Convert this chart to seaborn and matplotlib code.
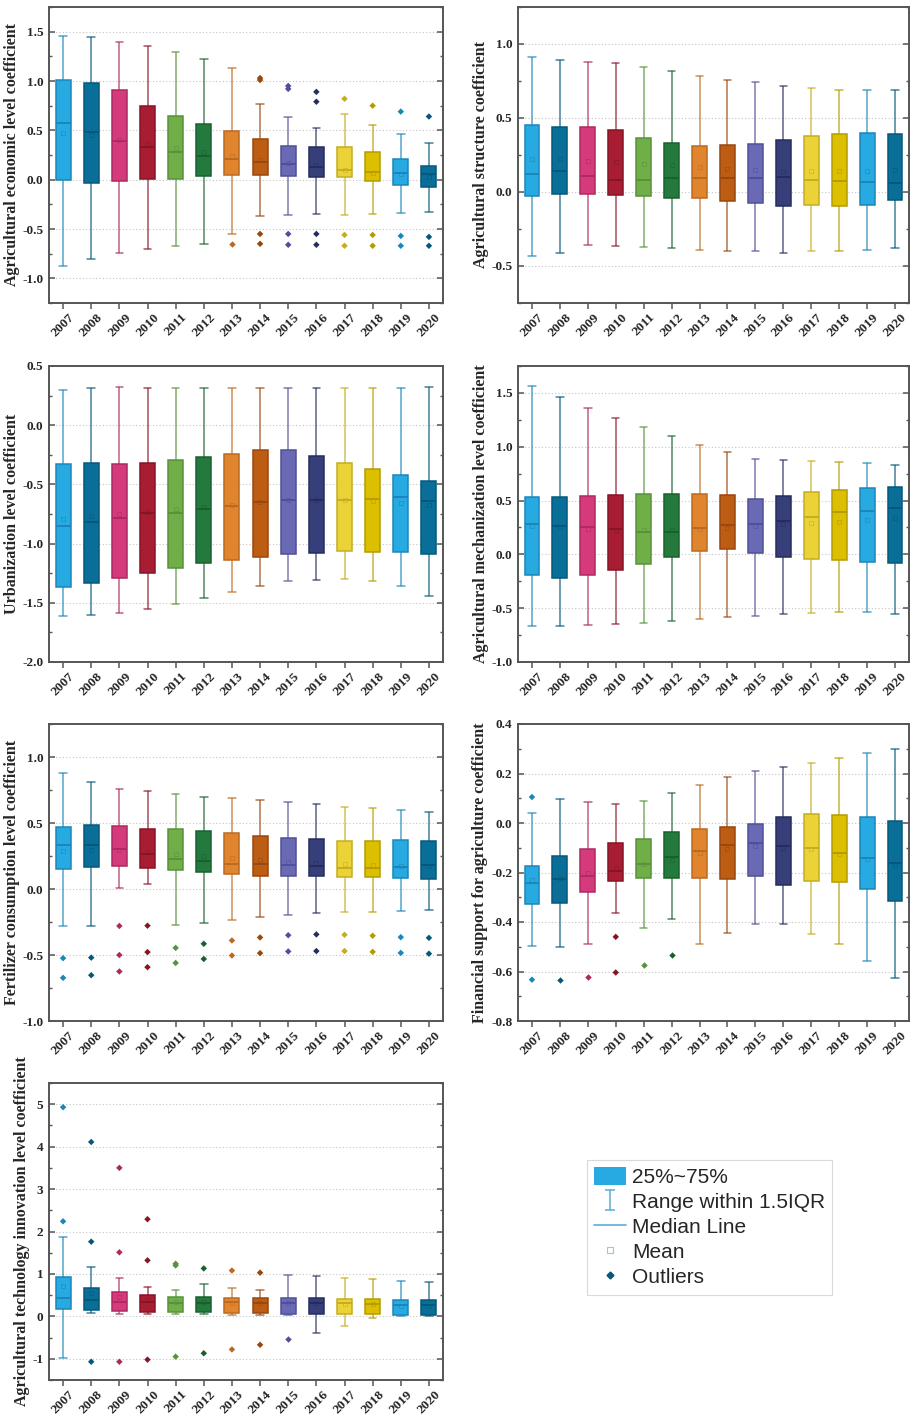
import numpy as np
import pandas as pd
import matplotlib
matplotlib.use("Agg")
import matplotlib.pyplot as plt
import seaborn as sns
from matplotlib.patches import Patch
from matplotlib.lines import Line2D
from matplotlib.path import Path
from matplotlib.ticker import MultipleLocator, FormatStrFormatter

years = [str(y) for y in range(2007, 2021)]

fill_colors = ["#27a9e1", "#0a6f98", "#d43a7c", "#a81d32", "#70ae48", "#237a3c",
               "#e0852e", "#bd5d14", "#6a69b3", "#373f7b", "#ebd236", "#dcc000",
               "#27a9e1", "#0a6f98"]
edge_colors = ["#1b86b8", "#06587a", "#ad2a60", "#861526", "#58923a", "#1a602f",
               "#bb6a20", "#98480e", "#50509a", "#262d5e", "#c4ad20", "#b49c00",
               "#1b86b8", "#06587a"]

# ---- Agricultural economic level coefficient ----
econ_hi = [1.46, 1.45, 1.40, 1.35, 1.29, 1.22, 1.13, 0.77, 0.64, 0.52, 0.67, 0.55, 0.46, 0.37]
econ_q3 = [1.01, 0.98, 0.91, 0.75, 0.65, 0.56, 0.49, 0.41, 0.34, 0.33, 0.33, 0.28, 0.21, 0.14]
econ_med = [0.57, 0.48, 0.39, 0.33, 0.28, 0.24, 0.21, 0.18, 0.16, 0.13, 0.10, 0.08, 0.07, 0.06]
econ_q1 = [0.00, -0.03, -0.01, 0.01, 0.01, 0.04, 0.05, 0.05, 0.04, 0.03, 0.03, -0.01, -0.05, -0.07]
econ_lo = [-0.87, -0.80, -0.74, -0.70, -0.67, -0.65, -0.55, -0.37, -0.36, -0.35, -0.36, -0.35, -0.34, -0.33]
econ_mean = [0.47, 0.45, 0.40, 0.36, 0.32, 0.28, 0.24, 0.20, 0.17, 0.15, 0.10, 0.07, 0.06, 0.03]
econ_out = [[], [], [], [], [], [], [-0.65], [1.03, 1.01, -0.55, -0.65], [0.95, 0.92, -0.55, -0.66],
            [0.89, 0.79, -0.55, -0.66], [0.82, -0.56, -0.67], [0.75, -0.56, -0.67],
            [0.69, -0.57, -0.67], [0.64, -0.58, -0.67]]

# ---- Agricultural structure coefficient ----
struct_hi = [0.91, 0.89, 0.88, 0.87, 0.845, 0.82, 0.785, 0.76, 0.74, 0.715, 0.70, 0.69, 0.69, 0.686]
struct_q3 = [0.45, 0.44, 0.44, 0.42, 0.365, 0.33, 0.31, 0.315, 0.325, 0.35, 0.377, 0.39, 0.40, 0.39]
struct_med = [0.125, 0.14, 0.105, 0.083, 0.083, 0.096, 0.096, 0.096, 0.096, 0.10, 0.083, 0.076, 0.067, 0.06]
struct_q1 = [-0.025, -0.013, -0.013, -0.022, -0.03, -0.04, -0.043, -0.06, -0.076, -0.092, -0.087, -0.092, -0.087, -0.056]
struct_lo = [-0.43, -0.41, -0.36, -0.365, -0.37, -0.38, -0.39, -0.40, -0.40, -0.41, -0.40, -0.40, -0.39, -0.38]
struct_mean = [0.22, 0.22, 0.21, 0.20, 0.19, 0.18, 0.166, 0.157, 0.146, 0.143, 0.141, 0.141, 0.143, 0.148]
struct_out = [[] for _ in years]

# ---- Urbanization level coefficient ----
urban_hi = [0.30, 0.31, 0.32, 0.31, 0.31, 0.31, 0.31, 0.31, 0.31, 0.31, 0.31, 0.31, 0.31, 0.32]
urban_q3 = [-0.33, -0.32, -0.33, -0.32, -0.29, -0.27, -0.245, -0.21, -0.21, -0.26, -0.32, -0.37, -0.42, -0.47]
urban_med = [-0.85, -0.82, -0.78, -0.74, -0.74, -0.71, -0.68, -0.65, -0.635, -0.63, -0.63, -0.62, -0.61, -0.64]
urban_q1 = [-1.365, -1.33, -1.29, -1.25, -1.21, -1.16, -1.14, -1.115, -1.09, -1.08, -1.065, -1.07, -1.075, -1.09]
urban_lo = [-1.61, -1.60, -1.59, -1.55, -1.51, -1.46, -1.41, -1.36, -1.32, -1.31, -1.30, -1.32, -1.36, -1.44]
urban_mean = [-0.79, -0.77, -0.75, -0.73, -0.71, -0.69, -0.67, -0.65, -0.635, -0.63, -0.63, -0.64, -0.66, -0.67]
urban_out = [[] for _ in years]

# ---- Agricultural mechanization level coefficient ----
mech_hi = [1.56, 1.46, 1.36, 1.27, 1.18, 1.10, 1.02, 0.95, 0.89, 0.88, 0.87, 0.86, 0.845, 0.83]
mech_q3 = [0.53, 0.53, 0.54, 0.55, 0.557, 0.563, 0.563, 0.55, 0.514, 0.545, 0.576, 0.60, 0.62, 0.63]
mech_med = [0.285, 0.26, 0.257, 0.24, 0.21, 0.21, 0.248, 0.27, 0.285, 0.306, 0.344, 0.393, 0.40, 0.43]
mech_q1 = [-0.195, -0.215, -0.19, -0.145, -0.087, -0.028, 0.028, 0.046, 0.01, -0.02, -0.04, -0.056, -0.068, -0.077]
mech_lo = [-0.67, -0.67, -0.66, -0.65, -0.64, -0.62, -0.60, -0.585, -0.57, -0.555, -0.545, -0.54, -0.54, -0.55]
mech_mean = [0.26, 0.25, 0.235, 0.23, 0.23, 0.23, 0.24, 0.245, 0.266, 0.28, 0.29, 0.30, 0.32, 0.34]
mech_out = [[] for _ in years]

# ---- Fertilizer consumption level coefficient ----
fert_hi = [0.876, 0.81, 0.76, 0.74, 0.72, 0.70, 0.69, 0.675, 0.66, 0.643, 0.625, 0.61, 0.60, 0.587]
fert_q3 = [0.47, 0.484, 0.476, 0.456, 0.451, 0.44, 0.423, 0.40, 0.387, 0.377, 0.367, 0.367, 0.372, 0.362]
fert_med = [0.334, 0.334, 0.30, 0.268, 0.23, 0.21, 0.19, 0.187, 0.18, 0.175, 0.162, 0.16, 0.167, 0.18]
fert_q1 = [0.15, 0.17, 0.177, 0.162, 0.147, 0.13, 0.114, 0.10, 0.096, 0.096, 0.094, 0.089, 0.084, 0.078]
fert_lo = [-0.28, -0.28, 0.008, 0.035, -0.27, -0.256, -0.233, -0.213, -0.195, -0.185, -0.177, -0.175, -0.17, -0.16]
fert_mean = [0.29, 0.294, 0.294, 0.28, 0.266, 0.253, 0.233, 0.22, 0.207, 0.20, 0.19, 0.185, 0.177, 0.177]
fert_out = [[-0.524, -0.673], [-0.52, -0.653], [-0.28, -0.50, -0.625], [-0.278, -0.478, -0.592],
            [-0.446, -0.56], [-0.415, -0.53], [-0.39, -0.504], [-0.367, -0.486], [-0.35, -0.473],
            [-0.344, -0.47], [-0.347, -0.47], [-0.354, -0.476], [-0.365, -0.484], [-0.37, -0.49]]

# ---- Financial support for agriculture coefficient ----
fin_hi = [0.042, 0.098, 0.086, 0.075, 0.09, 0.121, 0.155, 0.187, 0.21, 0.228, 0.243, 0.264, 0.282, 0.30]
fin_q3 = [-0.172, -0.135, -0.104, -0.081, -0.063, -0.036, -0.023, -0.015, -0.004, 0.026, 0.035, 0.032, 0.023, 0.007]
fin_med = [-0.243, -0.226, -0.216, -0.193, -0.167, -0.139, -0.112, -0.088, -0.082, -0.092, -0.102, -0.12, -0.141, -0.163]
fin_q1 = [-0.329, -0.322, -0.28, -0.233, -0.221, -0.224, -0.222, -0.228, -0.214, -0.25, -0.233, -0.237, -0.267, -0.315]
fin_lo = [-0.496, -0.499, -0.488, -0.365, -0.423, -0.387, -0.49, -0.446, -0.41, -0.41, -0.45, -0.488, -0.557, -0.627]
fin_mean = [-0.23, -0.222, -0.202, -0.182, -0.166, -0.148, -0.12, -0.104, -0.094, -0.10, -0.105, -0.124, -0.144, -0.168]
fin_out = [[0.105, -0.633], [-0.635], [-0.624], [-0.46, -0.604], [-0.575], [-0.535],
           [], [], [], [], [], [], [], []]

# ---- Agricultural technology innovation level coefficient ----
tech_hi = [1.86, 1.17, 0.91, 0.69, 0.61, 0.76, 0.66, 0.63, 0.98, 0.94, 0.90, 0.87, 0.84, 0.80]
tech_q3 = [0.93, 0.68, 0.57, 0.50, 0.46, 0.46, 0.44, 0.44, 0.43, 0.43, 0.42, 0.40, 0.39, 0.39]
tech_med = [0.44, 0.38, 0.35, 0.33, 0.32, 0.32, 0.33, 0.31, 0.31, 0.32, 0.32, 0.29, 0.27, 0.27]
tech_q1 = [0.18, 0.14, 0.13, 0.10, 0.10, 0.095, 0.08, 0.08, 0.055, 0.055, 0.055, 0.05, 0.03, 0.03]
tech_lo = [-0.98, 0.07, 0.055, 0.05, 0.05, 0.05, 0.04, 0.03, 0.024, -0.39, -0.22, -0.05, 0.01, 0.01]
tech_mean = [0.72, 0.56, 0.45, 0.38, 0.35, 0.33, 0.31, 0.31, 0.31, 0.31, 0.28, 0.28, 0.25, 0.25]
tech_out = [[4.93, 2.24], [4.11, 1.76, -1.07], [3.50, 1.51, -1.07], [2.29, 1.32, -1.02],
            [1.24, 1.20, -0.95], [1.13, -0.87], [1.08, -0.78], [1.03, -0.67], [-0.54],
            [], [], [], [], []]

panels = [
    ("Agricultural economic level coefficient", econ_lo, econ_q1, econ_med, econ_q3, econ_hi, econ_mean, econ_out),
    ("Agricultural structure coefficient", struct_lo, struct_q1, struct_med, struct_q3, struct_hi, struct_mean, struct_out),
    ("Urbanization level coefficient", urban_lo, urban_q1, urban_med, urban_q3, urban_hi, urban_mean, urban_out),
    ("Agricultural mechanization level coefficient", mech_lo, mech_q1, mech_med, mech_q3, mech_hi, mech_mean, mech_out),
    ("Fertilizer consumption level coefficient", fert_lo, fert_q1, fert_med, fert_q3, fert_hi, fert_mean, fert_out),
    ("Financial support for agriculture coefficient", fin_lo, fin_q1, fin_med, fin_q3, fin_hi, fin_mean, fin_out),
    ("Agricultural technology innovation level coefficient", tech_lo, tech_q1, tech_med, tech_q3, tech_hi, tech_mean, tech_out),
]

# axis settings (ylim, major step, format) and pixel boxes (left, top, right, bottom)
axis_cfg = [((-1.25, 1.75), 0.5, "%.1f"), ((-0.75, 1.25), 0.5, "%.1f"),
            ((-2.0, 0.5), 0.5, "%.1f"), ((-1.0, 1.75), 0.5, "%.1f"),
            ((-1.0, 1.25), 0.5, "%.1f"), ((-0.8, 0.4), 0.2, "%.1f"),
            ((-1.5, 5.5), 1.0, "%d")]
boxes_px = [(49, 7, 443, 303), (518, 7, 909, 303), (49, 366, 443, 662), (518, 366, 909, 662),
            (49, 724, 443, 1021), (518, 724, 909, 1021), (49, 1083, 443, 1380)]

sns.set_theme(style="white")
plt.rcParams["font.family"] = ["Liberation Serif", "DejaVu Serif"]
plt.rcParams["axes.unicode_minus"] = False

W, H = 911, 1415
fig = plt.figure(figsize=(W / 100, H / 100), dpi=100)
spine_col = "#555555"
edge_map = dict(zip(years, edge_colors))

for (label, lo, q1, med, q3, hi, mean, out), (ylim, step, fmt), (l, t, r, b) in zip(panels, axis_cfg, boxes_px):
    ax = fig.add_axes([l / W, 1 - b / H, (r - l) / W, (b - t) / H])
    box_df = pd.DataFrame({"year": np.repeat(years, 5),
                           "value": np.column_stack([lo, q1, med, q3, hi]).ravel()})
    for i, y in enumerate(years):
        sns.boxplot(data=box_df[box_df["year"] == y], x="year", y="value", order=years,
                    color=fill_colors[i], linecolor=edge_colors[i], saturation=1,
                    width=0.53, whis=(0, 100), linewidth=1.1, showfliers=False,
                    whiskerprops=dict(alpha=0.75, linewidth=1.1),
                    capprops=dict(alpha=0.75, linewidth=1.1),
                    medianprops=dict(linewidth=1.4), ax=ax)
    out_df = pd.DataFrame([(y, v) for y, vals in zip(years, out) for v in vals],
                          columns=["year", "value"])
    if len(out_df):
        sns.stripplot(data=out_df, x="year", y="value", hue="year", order=years,
                      hue_order=years, palette=edge_map, jitter=False, marker="D",
                      size=3.3, linewidth=0, legend=False, ax=ax, zorder=4)
    mean_df = pd.DataFrame({"year": years, "value": mean})
    sns.pointplot(data=mean_df, x="year", y="value", hue="year", order=years,
                  hue_order=years, palette=edge_map, markers="s", linestyles="none",
                  errorbar=None, legend=False, markersize=3, markeredgewidth=0.7,
                  markerfacecolor="none", alpha=0.55, ax=ax)

    ax.set_xlim(-0.5, len(years) - 0.5)
    ax.set_ylim(*ylim)
    ax.yaxis.set_major_locator(MultipleLocator(step))
    ax.yaxis.set_minor_locator(MultipleLocator(step / 2))
    ax.yaxis.set_major_formatter(FormatStrFormatter(fmt))
    ax.set_xlabel("")
    ax.set_ylabel(label, fontsize=11.5, fontweight="bold", labelpad=2)
    ax.yaxis.grid(True, which="major", linestyle=(0, (1, 2)), color="#c4c4c4", linewidth=0.8)
    ax.xaxis.grid(False)
    ax.set_axisbelow(True)
    for sp in ax.spines.values():
        sp.set_color(spine_col)
        sp.set_linewidth(1.4)
        sp.set_visible(True)
    ax.tick_params(axis="y", which="major", direction="in", length=4, width=1.1,
                   color=spine_col, labelsize=9.5, pad=4, left=True, right=True)
    ax.tick_params(axis="y", which="minor", direction="in", length=2.5, width=1.0,
                   color=spine_col, left=True, right=True)
    ax.tick_params(axis="x", which="major", direction="out", length=4, width=1.1,
                   color=spine_col, labelsize=9.7, pad=2, bottom=True, top=False)
    for lab in ax.get_yticklabels():
        lab.set_fontweight("bold")
    ax.set_xticks(range(len(years)))
    ax.set_xticklabels(years, rotation=45, ha="center", va="top", fontweight="bold")

# legend
ibeam = Path([(-0.5, 1), (0.5, 1), (0, 1), (0, -1), (-0.5, -1), (0.5, -1)],
             [Path.MOVETO, Path.LINETO, Path.MOVETO, Path.LINETO, Path.MOVETO, Path.LINETO])
handles = [
    Patch(facecolor=fill_colors[0], edgecolor="none"),
    Line2D([], [], linestyle="none", marker=ibeam, markersize=14, color="#5aaed6",
           markeredgewidth=1.1),
    Line2D([], [], color="#5aaed6", linewidth=1.2),
    Line2D([], [], linestyle="none", marker="s", markersize=4, markerfacecolor="none",
           markeredgecolor="#8ccbe8", markeredgewidth=0.8),
    Line2D([], [], linestyle="none", marker="D", markersize=3.5, color=edge_colors[1]),
]
labels = ["25%~75%", "Range within 1.5IQR", "Median Line", "Mean", "Outliers"]
leg = fig.legend(handles, labels, loc="upper left", bbox_to_anchor=(587 / W, 1 - 1160 / H),
                 frameon=True, fancybox=False, edgecolor="#d0d0d0", borderaxespad=0,
                 prop={"family": "Liberation Sans", "size": 15}, handlelength=1.5,
                 handleheight=0.9, handletextpad=0.3, labelspacing=0.25, borderpad=0.35)
leg.get_frame().set_linewidth(0.8)

fig.savefig("out.png", dpi=100)
